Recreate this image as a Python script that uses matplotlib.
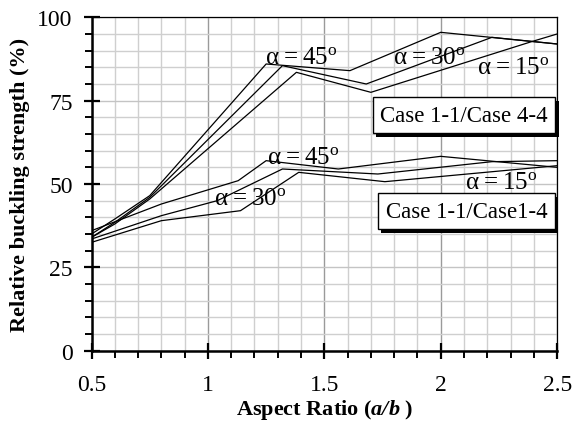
import numpy as np
import matplotlib
matplotlib.use("Agg")
import matplotlib.pyplot as plt
import matplotlib.patheffects as pe
from matplotlib.ticker import MultipleLocator

plt.rcParams['font.family'] = ['Liberation Serif', 'DejaVu Serif']
plt.rcParams['mathtext.fontset'] = 'custom'
plt.rcParams['mathtext.rm'] = 'Liberation Serif'
plt.rcParams['mathtext.it'] = 'Liberation Serif:italic'
plt.rcParams['mathtext.bf'] = 'Liberation Serif:bold'
plt.rcParams['mathtext.bfit'] = 'Liberation Serif:italic:bold'

# Case 1-1 / Case 4-4 (upper group)
u45_x = [0.5, 0.6, 0.75, 1.25, 1.61, 2.0, 2.5]
u45_y = [35.0, 39.5, 46.5, 86.0, 84.0, 95.5, 92.0]
u30_x = [0.5, 0.6, 0.75, 1.32, 1.68, 2.22, 2.5]
u30_y = [34.0, 38.5, 46.0, 85.5, 80.0, 94.0, 92.0]
u15_x = [0.5, 0.6, 0.75, 1.38, 1.70, 2.39, 2.5]
u15_y = [34.0, 38.0, 45.5, 83.5, 77.5, 92.7, 95.0]

# Case 1-1 / Case 1-4 (lower group)
l45_x = [0.5, 0.8, 1.13, 1.25, 1.56, 2.0, 2.5]
l45_y = [36.0, 44.0, 51.0, 57.0, 54.5, 58.3, 55.0]
l30_x = [0.5, 0.8, 1.04, 1.32, 1.73, 2.22, 2.5]
l30_y = [33.5, 40.5, 45.0, 54.5, 53.0, 56.7, 57.0]
l15_x = [0.5, 0.8, 1.14, 1.39, 1.76, 2.5]
l15_y = [32.5, 39.0, 42.0, 53.5, 50.7, 55.5]

series = [(u45_x, u45_y), (u30_x, u30_y), (u15_x, u15_y),
          (l45_x, l45_y), (l30_x, l30_y), (l15_x, l15_y)]

angle_labels = [
    (1.40, 88.2, 45), (1.95, 88.2, 30), (2.31, 85.2, 15),
    (1.41, 58.0, 45), (1.18, 45.8, 30), (2.26, 50.7, 15),
]
case_labels = [(2.10, 70.6, 'Case 1-1/Case 4-4'),
               (2.11, 41.8, 'Case 1-1/Case1-4')]

fig = plt.figure(figsize=(5.72, 4.31), dpi=100)
ax = fig.add_axes([0.16, 0.184, 0.814, 0.7735])

for x, y in series:
    ax.plot(x, y, color='black', lw=0.9, zorder=3)

for x, y, a in angle_labels:
    ax.text(x, y, 'α\u2009=\u2009%d$^{\\mathregular{o}}$' % a, fontsize=18,
            ha='center', va='center', zorder=4)

for x, y, s in case_labels:
    t = ax.text(x, y, s, fontsize=16.5, ha='center', va='center', zorder=5,
                bbox=dict(boxstyle='square,pad=0.33', fc='white', ec='black', lw=1))
    t.get_bbox_patch().set_path_effects([
        pe.SimplePatchShadow(offset=(2.5, -2.5), shadow_rgbFace='black', alpha=1.0),
        pe.Normal()])

ax.set_xlim(0.5, 2.5)
ax.set_ylim(0, 100)
ax.xaxis.set_minor_locator(MultipleLocator(0.1))
ax.yaxis.set_major_locator(MultipleLocator(25))
ax.yaxis.set_minor_locator(MultipleLocator(5))
ax.set_xticks([0.5, 1, 1.5, 2, 2.5])
ax.set_xticklabels(['0.5', '1', '1.5', '2', '2.5'])

ax.grid(which='minor', color='#cfcfcf', lw=1.0)
ax.grid(which='major', axis='y', color='#c4c4c4', lw=1.0)
ax.grid(which='major', axis='x', color='#9a9a9a', lw=1.0)
ax.set_axisbelow(True)

ax.tick_params(which='major', direction='inout', length=11, width=1.6,
               labelsize=17, pad=8)
ax.tick_params(which='minor', direction='out', length=5, width=1.4)
ax.tick_params(axis='x', which='major', pad=11)

for side in ['left', 'bottom']:
    ax.spines[side].set_linewidth(1.8)
for side in ['top', 'right']:
    ax.spines[side].set_linewidth(0.9)

ax.set_xlabel('Aspect Ratio ($\\mathbfit{a/b}$ )', fontsize=16,
              fontweight='bold', labelpad=2)
ax.set_ylabel('Relative buckling strength (%)', fontsize=16,
              fontweight='bold', labelpad=5)

fig.savefig('out.png', dpi=100)
